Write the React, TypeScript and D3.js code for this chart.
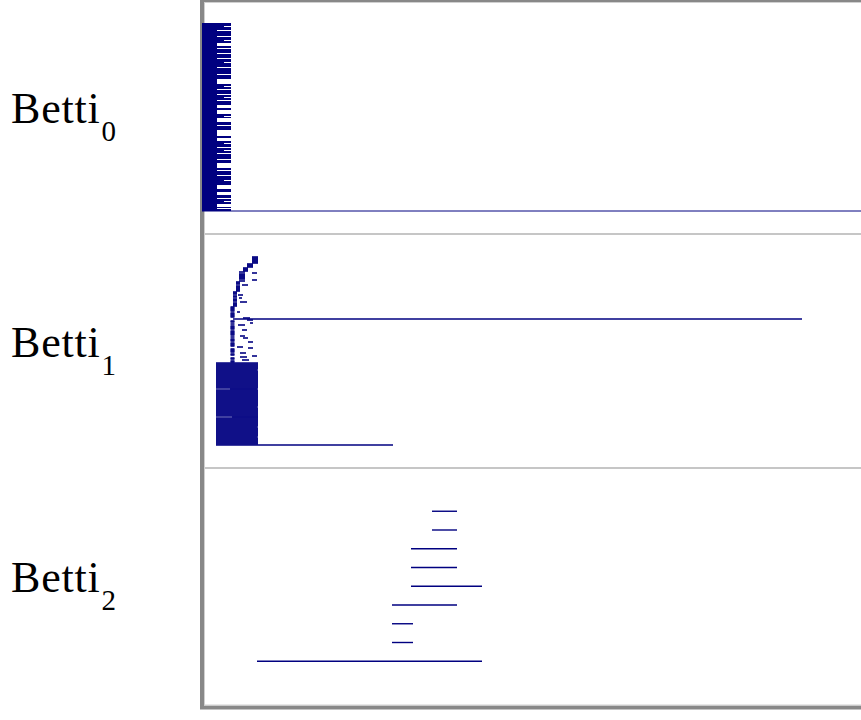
import React from "react";
import * as d3 from "d3";

// ---------- DATA ----------
// Betti_0 bars: all born at 0, deaths listed top to bottom (last one is infinite)
const betti0Deaths: number[] = [
  0.29, 0.29, 0.29, 0.22, 0.29, 0.29, 0.29, 0.15, 0.29, 0.29,
  0.29, 0.29, 0.29, 0.15, 0.29, 0.29, 0.29, 0.22, 0.29, 0.29,
  0.15, 0.15, 0.15, 0.29, 0.29, 0.15, 0.29, 0.29, 0.29, 0.29,
  0.15, 0.29, 0.29, 0.29, 0.29, 0.15, 0.29, 0.29, 0.29, 0.22,
  0.29, 0.29, 0.29, 0.29, 0.15, 0.29, 0.29, 0.29, 0.29, 0.29,
  0.29, 0.15, 0.29, 0.29, 0.29, 0.29, 0.15, 0.15, 0.15, 0.15,
  0.15, 0.29, 0.29, 0.22, 0.29, 0.29, 0.15, 0.29, 0.29, 0.29,
  0.29, 0.15, 0.29, 0.29, 0.22, 0.29, 0.29, 0.15, 0.29, 0.29,
  0.29, 0.29, 0.15, 0.15, 0.15, 0.29, 0.29, 0.15, 0.15, 0.15,
  0.15, 0.29, 0.29, 0.22, 0.29, 0.15, 0.15, 0.15, 0.15, 0.29,
  0.29, 0.29, 0.15, 0.29, 0.29, 0.29, 0.29, 0.15, 0.15, 0.15,
  0.15, 0.15, 0.15, 0.29, 0.29, 0.15, 0.15, 0.15, 0.29, 0.29,
  0.22, 0.29, 0.29, 0.29, 0.15, 0.29, 0.29, 0.22, 0.29, 0.29,
  0.15, 0.29, 0.29, 0.29, 0.29, 0.29, 0.15, 0.29, 0.29, 0.29,
  0.15, 0.15, 0.15, 0.15, 0.15, 0.29, 0.29, 0.15, 0.29, 0.29,
  0.29, 0.29, 0.15, 0.29, 0.29, 0.29, 0.29, 0.22, 0.29, 0.29,
  0.29, 0.29, 0.15, 0.15, 0.15, 0.15, 0.29, 0.29, 0.29, 0.15,
  0.15, 0.15, 0.29, 0.29, 0.29, 0.15, 0.29, 0.29, 0.22, 0.29,
  0.29, 0.15, 0.15, 0.15, 0.29, 0.15, 0.29, 0.29,
  Infinity,
];

// Betti_1 bars as runs, top to bottom: [count, birth, death]
const betti1Runs: [number, number, number][] = [
  [7, 0.5, 0.56], [4, 0.45, 0.51], [4, 0.41, 0.46],
  [1, 0.37, 0.43], [1, 0.5, 0.55], [6, 0.37, 0.43], [1, 0.5, 0.55], [1, 0.37, 0.43],
  [3, 0.34, 0.38], [1, 0.4, 0.46], [6, 0.34, 0.38],
  [3, 0.31, 0.35], [1, 0.36, 0.41], [2, 0.31, 0.35], [1, 0.37, 0.4], [3, 0.31, 0.35],
  [1, 0.38, 0.45], [4, 0.31, 0.35],
  [5, 0.285, 0.325], [1, 0.35, 0.38], [5, 0.285, 0.325], [1, 0.41, 0.48], [1, 0.31, 6.0],
  [1, 0.45, 0.51], [2, 0.285, 0.325], [1, 0.48, 0.51], [1, 0.285, 0.325], [1, 0.36, 0.43],
  [4, 0.285, 0.325], [1, 0.4, 0.45], [5, 0.285, 0.325], [1, 0.38, 0.43], [1, 0.285, 0.325],
  [1, 0.41, 0.46], [3, 0.285, 0.325], [1, 0.46, 0.51], [4, 0.285, 0.325], [1, 0.35, 0.41],
  [1, 0.46, 0.51], [4, 0.285, 0.325], [1, 0.38, 0.44], [2, 0.285, 0.325], [1, 0.5, 0.55],
  [1, 0.38, 0.45], [2, 0.285, 0.325], [1, 0.4, 0.47], [2, 0.285, 0.325],
  [7, 0.14, 0.56], [1, 0.14, 0.55], [18, 0.14, 0.56], [1, 0.28, 0.55], [17, 0.14, 0.56],
  [1, 0.14, 0.55], [9, 0.14, 0.56], [1, 0.3, 0.56], [9, 0.14, 0.56], [1, 0.14, 0.55],
  [9, 0.14, 0.56], [1, 0.14, 0.55], [7, 0.14, 0.56],
  [1, 0.14, 1.91],
];

// Betti_2 bars, top to bottom
const betti2Births = [2.3, 2.3, 2.09, 2.09, 2.09, 1.9, 1.9, 1.9, 0.55];
const betti2Deaths = [2.55, 2.55, 2.55, 2.55, 2.8, 2.55, 2.11, 2.11, 2.8];

const dimensionLabels = ["0", "1", "2"];
const xDomain: [number, number] = [0, 6.6];

// ---------- LAYOUT ----------
const W = 861;
const H = 720;
const plotLeft = 202;
const plotRight = 862;
const panels = [
  { top: 0, bottom: 234 },
  { top: 234, bottom: 468 },
  { top: 470.5, bottom: 702 },
];
const BAR_COLOR = "#000080";

type Bar = { birth: number; death: number };

export default function App() {
  const x = d3.scaleLinear().domain(xDomain).range([plotLeft, plotRight]);

  const bars0: Bar[] = betti0Deaths.map((d) => ({ birth: 0, death: d }));
  const bars1: Bar[] = [];
  betti1Runs.forEach(([n, b, d]) => {
    for (let k = 0; k < n; k++) bars1.push({ birth: b, death: d });
  });
  const bars2: Bar[] = betti2Births.map((b, i) => ({ birth: b, death: betti2Deaths[i] }));
  const allBars = [bars0, bars1, bars2];

  const xEnd = (v: number) => (Number.isFinite(v) ? x(v) : plotRight + 10);

  const styleFor = (p: number, inf: boolean) => {
    if (p === 0) {
      return inf
        ? { w: 1, r: "auto" }
        : { w: 1, r: "crispEdges" };
    }
    if (p === 1) return { w: 1.6, r: "auto" };
    return { w: 1.4, r: "auto" };
  };

  return (
    <svg
      width={W}
      height={H}
      style={{ position: "fixed", left: 0, top: 0, background: "#fff" }}
    >
      <rect x={0} y={0} width={W} height={H} fill="#fff" />
      {/* separators */}
      {[234, 468].map((sy) => (
        <line key={sy} x1={204} x2={W + 5} y1={sy} y2={sy} stroke="#c6c6c6" strokeWidth={2} />
      ))}
      {/* frame */}
      <rect x={plotLeft} y={0} width={800} height={707.5} fill="none" stroke="#888" strokeWidth={4} />
      <rect x={204.5} y={2.5} width={800} height={702.5} fill="none" stroke="#d0d0d0" strokeWidth={1} />
      {allBars.map((bars, p) => {
        const y = d3
          .scalePoint<number>()
          .domain(d3.range(bars.length))
          .range([panels[p].top + 22, panels[p].bottom - 22])
          .padding(1);
        return (
          <g key={p}>
            {bars.map((b, i) => {
              const inf = !Number.isFinite(b.death);
              const s = styleFor(p, inf);
              return (
                <line
                  key={i}
                  x1={x(b.birth)}
                  x2={xEnd(b.death)}
                  y1={y(i)}
                  y2={y(i)}
                  stroke={BAR_COLOR}
                  strokeWidth={s.w}
                  shapeRendering={s.r}
                />
              );
            })}
          </g>
        );
      })}
      {/* labels */}
      {dimensionLabels.map((lab, p) => {
        const cy = (panels[p].top + panels[p].bottom) / 2;
        return (
          <text
            key={lab}
            x={11}
            y={cy + 6}
            fontFamily="'Liberation Serif', 'Times New Roman', serif"
            fontSize={44}
            letterSpacing={0.8}
            fill="#000"
          >
            Betti
            <tspan fontSize={29} dy={18} dx={1}>
              {lab}
            </tspan>
          </text>
        );
      })}
    </svg>
  );
}
